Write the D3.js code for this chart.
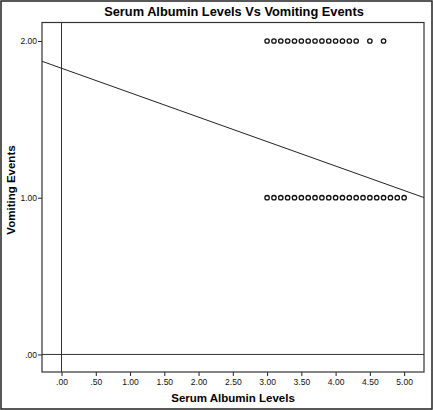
<!DOCTYPE html>
<html><head><meta charset="utf-8">
<script src="https://cdn.jsdelivr.net/npm/d3@7"></script>
<style>body{margin:0;background:#fff}svg{display:block}text{font-family:"Liberation Sans",Arial,sans-serif}</style>
</head><body><svg id="c" width="433" height="410"></svg>
<script>
const title = "Serum Albumin Levels Vs Vomiting Events";
const xLabel = "Serum Albumin Levels";
const yLabel = "Vomiting Events";
const xTicks = [0, 0.5, 1, 1.5, 2, 2.5, 3, 3.5, 4, 4.5, 5];
const yTicks = [0, 1, 2];
// albumin values of patients with vomiting events = 2
const albuminVomit2 = [3.0,3.1,3.2,3.3,3.4,3.5,3.6,3.7,3.8,3.9,4.0,4.1,4.2,4.3,4.5,4.7];
// albumin values of patients with vomiting events = 1
const albuminVomit1 = [3.0,3.1,3.2,3.3,3.4,3.5,3.6,3.7,3.8,3.9,4.0,4.1,4.2,4.3,4.4,4.5,4.6,4.7,4.8,4.9,5.0];
// fit line (total)
const fitIntercept = 1.826;
const fitSlope = -0.156;

const svg = d3.select("#c");
const L = 42, R = 424, T = 22.5, B = 372;
const x = d3.scaleLinear().domain([-0.285, 5.29]).range([L, R]);
const y = d3.scaleLinear().domain([-0.112, 2.118]).range([B, T]);
const fmt = v => { const s = v.toFixed(2); return s.startsWith("0") ? s.slice(1) : s; };

// outer frame
svg.append("rect").attr("x",1).attr("y",1).attr("width",431).attr("height",408)
  .attr("fill","none").attr("stroke","#222").attr("stroke-width",1.5);

svg.append("text").attr("x",234).attr("y",16).attr("text-anchor","middle")
  .attr("font-weight","bold").attr("font-size",12.8).text(title);

// axes
const xa = svg.append("g").attr("transform",`translate(0,${B})`)
  .call(d3.axisBottom(x).tickValues(xTicks).tickFormat(fmt).tickSize(4).tickSizeOuter(0));
const ya = svg.append("g").attr("transform",`translate(${L},0)`)
  .call(d3.axisLeft(y).tickValues(yTicks).tickFormat(fmt).tickSize(4).tickSizeOuter(0));
[xa, ya].forEach(g => {
  g.select(".domain").remove();
  g.selectAll("line").attr("stroke","#222");
  g.selectAll("text").attr("font-size",8.5).attr("fill","#111").attr("font-family","'Liberation Sans',Arial,sans-serif");
});
xa.selectAll("text").attr("dy","0.71em").attr("y",7);
ya.selectAll("text").attr("x",-5);

const clip = svg.append("clipPath").attr("id","cp").append("rect")
  .attr("x",L).attr("y",T).attr("width",R-L).attr("height",B-T);
const g = svg.append("g").attr("clip-path","url(#cp)");

// reference lines at 0
g.append("line").attr("x1",x(0)).attr("x2",x(0)).attr("y1",T).attr("y2",B).attr("stroke","#333").attr("stroke-width",1);
g.append("line").attr("x1",L).attr("x2",R).attr("y1",y(0)).attr("y2",y(0)).attr("stroke","#333").attr("stroke-width",1);

// fit line
const xd = x.domain();
g.append("line").attr("x1",x(xd[0])).attr("y1",y(fitIntercept+fitSlope*xd[0]))
  .attr("x2",x(xd[1])).attr("y2",y(fitIntercept+fitSlope*xd[1]))
  .attr("stroke","#222").attr("stroke-width",1);

// points
const pts = albuminVomit2.map(v=>({x:v,y:2})).concat(albuminVomit1.map(v=>({x:v,y:1})));
g.selectAll("circle.p").data(pts).join("circle").attr("class","p")
  .attr("cx",d=>x(d.x)).attr("cy",d=>y(d.y)).attr("r",2.2)
  .attr("fill","none").attr("stroke","#111").attr("stroke-width",1.3);

// plot frame
svg.append("rect").attr("x",L).attr("y",T).attr("width",R-L).attr("height",B-T)
  .attr("fill","none").attr("stroke","#333").attr("stroke-width",1.2);

svg.append("text").attr("x",233).attr("y",402).attr("text-anchor","middle")
  .attr("font-weight","bold").attr("font-size",11.5).text(xLabel);
svg.append("text").attr("transform","translate(15,190) rotate(-90)").attr("text-anchor","middle")
  .attr("font-weight","bold").attr("font-size",11.5).text(yLabel);
</script></body></html>
